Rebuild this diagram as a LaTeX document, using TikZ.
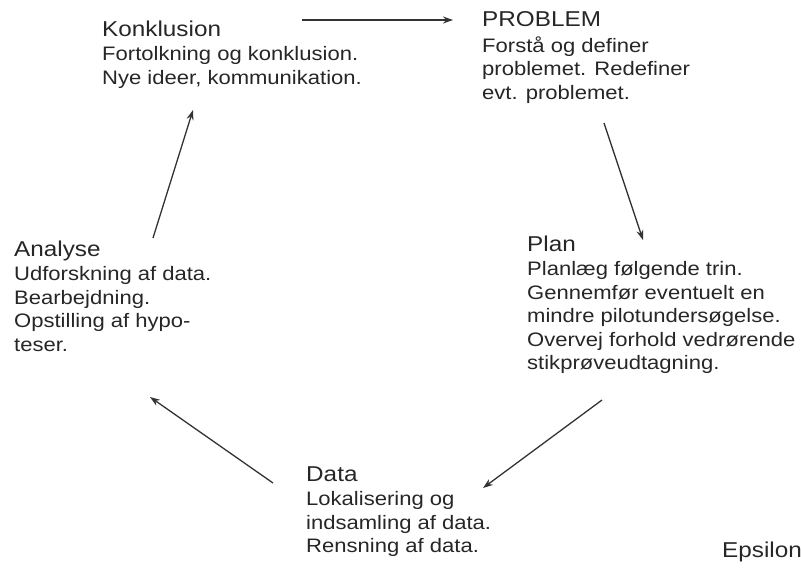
\documentclass[tikz,border=0pt]{standalone}
\usepackage{fontspec}
\setmainfont{Liberation Sans}[FakeStretch=1.13]
\usepackage{tikz}
\usetikzlibrary{arrows.meta}
\usetikzlibrary{positioning}

\begin{document}
\begin{tikzpicture}[x=1pt, y=-1pt,
        titletext/.style={anchor=north west, inner sep=0pt, text=black!85, text height=16pt, text depth=5pt, font=\fontsize{21.5}{24}\selectfont},
        bodytext/.style={anchor=north west, inner sep=0pt, align=left, text=black!85, font=\fontsize{19.5}{23.5}\selectfont},
        flow/.style={-{Stealth[length=10pt,width=7pt]}, draw=black!80, line width=1.3pt}]
        \useasboundingbox (0,0) rectangle (801,568);

        % steps
        \node (konkl) at (102,20) [titletext] {Konklusion};
        \node (konkltxt) [bodytext, below=5pt of konkl.south west, anchor=north west] {Fortolkning og konklusion.\\Nye ideer, kommunikation.};

        \node (probl) at (482,10) [titletext] {PROBLEM};
        \node (probltxt) [bodytext, below=5pt of probl.south west, anchor=north west] {Forstå og definer\\problemet. Redefiner\\evt. problemet.};

        \node (plan) at (527,235) [titletext] {Plan};
        \node (plantxt) [bodytext, below=5pt of plan.south west, anchor=north west] {Planlæg følgende trin.\\Gennemfør eventuelt en\\mindre pilotundersøgelse.\\Overvej forhold vedrørende\\stikprøveudtagning.};

        \node (data) at (306,465) [titletext] {Data};
        \node (datatxt) [bodytext, below=5pt of data.south west, anchor=north west] {Lokalisering og\\indsamling af data.\\Rensning af data.};

        \node (anal) at (14,240) [titletext] {Analyse};
        \node (analtxt) [bodytext, below=5pt of anal.south west, anchor=north west] {Udforskning af data.\\Bearbejdning.\\Opstilling af hypo-\\teser.};

        \node (eps) at (722,541) [titletext] {Epsilon};

        % arrow ends
        \coordinate (konkl-out) at (302,20);
        \coordinate (probl-in) at (453,20);
        \coordinate (probl-out) at (604,123);
        \coordinate (plan-in) at (643,240);
        \coordinate (plan-out) at (602,400);
        \coordinate (data-in) at (483,488);
        \coordinate (data-out) at (273,483);
        \coordinate (anal-in) at (150,397);
        \coordinate (anal-out) at (153,238);
        \coordinate (konkl-in) at (193,110);

        % connections
        \draw[flow] (konkl-out) -- (probl-in);
        \draw[flow] (probl-out) -- (plan-in);
        \draw[flow] (plan-out) -- (data-in);
        \draw[flow] (data-out) -- (anal-in);
        \draw[flow] (anal-out) -- (konkl-in);
    \end{tikzpicture}
\end{document}
